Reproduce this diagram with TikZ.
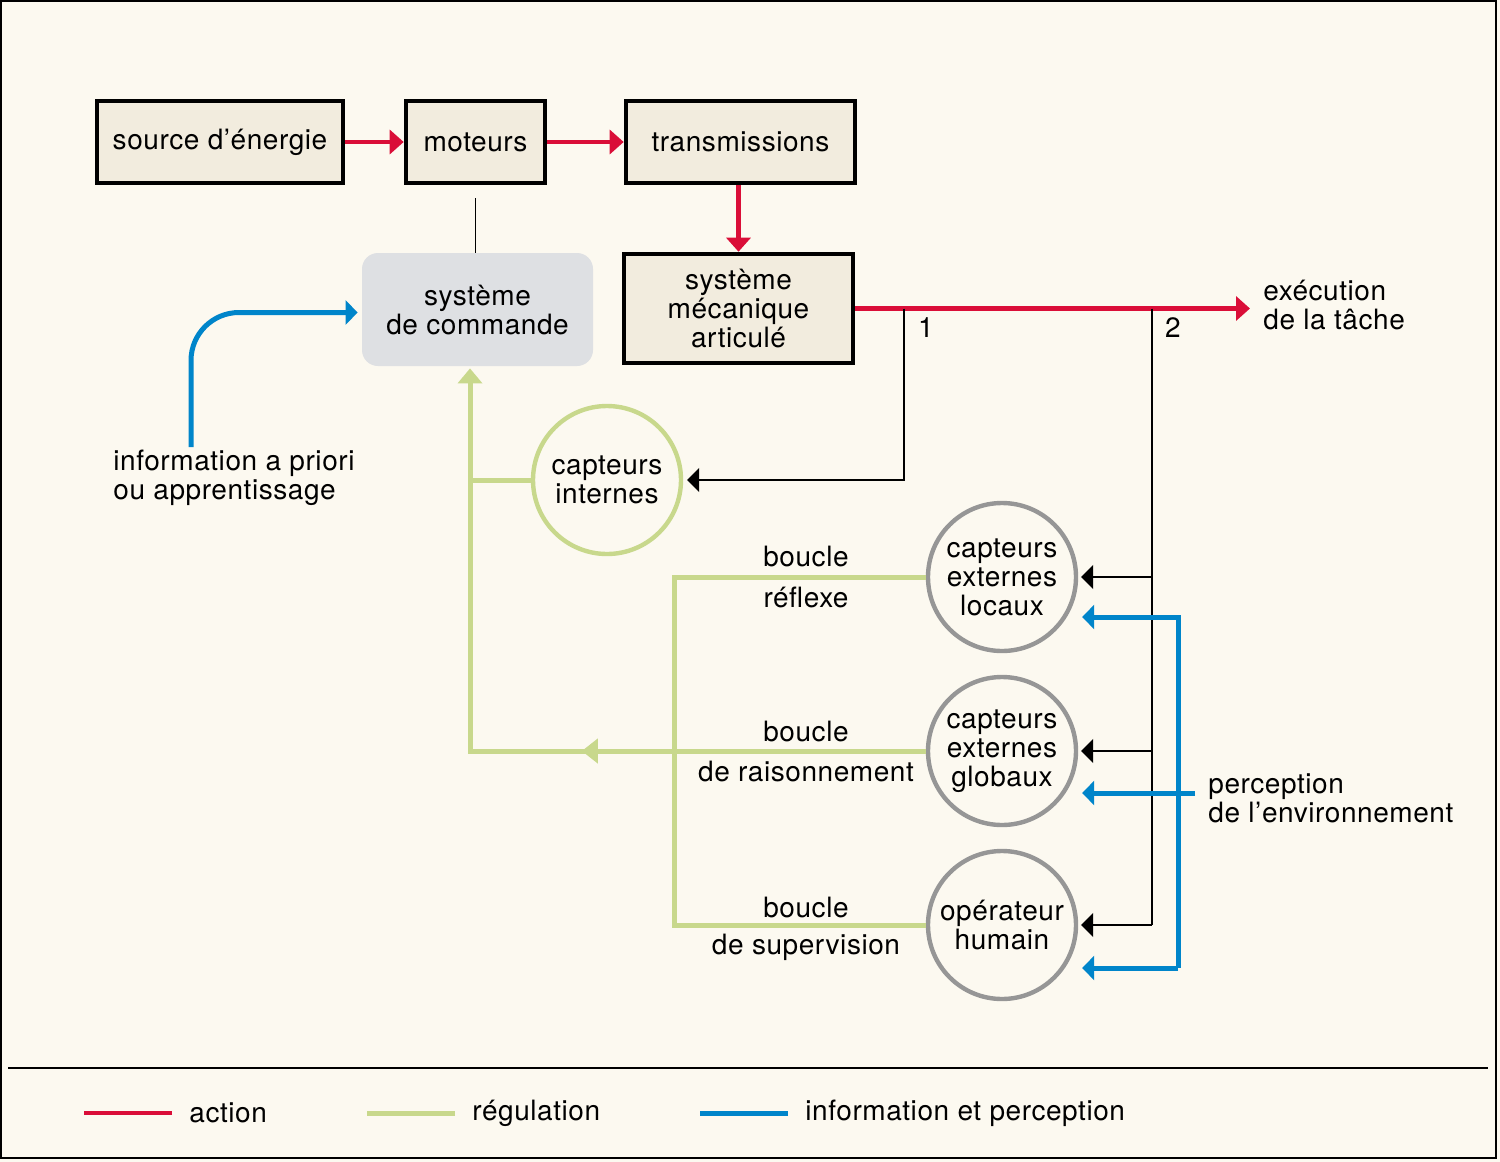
\documentclass[tikz,border=0pt]{standalone}
\usepackage{fontspec}
\setmainfont{TeX Gyre Heros}[LetterSpace=2]
\usetikzlibrary{arrows.meta,calc,decorations.markings}

\definecolor{fond}{RGB}{252,249,240}
\definecolor{boite}{RGB}{242,236,222}
\definecolor{grisbloc}{RGB}{222,224,227}
\definecolor{cercle}{RGB}{150,150,150}
\definecolor{rouge}{RGB}{218,14,56}
\definecolor{vert}{RGB}{200,216,140}
\definecolor{bleu}{RGB}{0,133,202}

\begin{document}
\begin{tikzpicture}[x=0.5pt,y=-0.5pt,
    font=\fontsize{14}{14.5}\selectfont,
    bloc/.style={draw=black,line width=2.3pt,fill=boite,minimum height=41pt,inner sep=0pt,align=center},
    capteur/.style={circle,draw=cercle,line width=2.2pt,minimum size=74pt,inner sep=0pt,align=center},
    action/.style={draw=rouge,line width=2.2pt,-{Triangle[length=7pt,width=12pt]}},
    regul/.style={draw=vert,line width=2.5pt},
    percep/.style={draw=bleu,line width=2.5pt,-{Triangle[length=6pt,width=12pt]}},
    liaison/.style={draw=black,line width=0.9pt,-{Triangle[length=6pt,width=12pt]}},
    texte/.style={inner sep=0pt,align=left}]

    % fond et cadre
    \fill[fond] (0,0) rectangle (1500,1162);
    \useasboundingbox (0,0) rectangle (1500,1162);
    \draw[line width=1pt] (1,1) rectangle (1496,1158);

    % chaine d'action
    \node[bloc,minimum width=123pt] (src) at (220,142) {source d’énergie};
    \node[bloc,minimum width=69.5pt] (mot) at (475.5,142) {moteurs};
    \node[bloc,minimum width=114.5pt] (trans) at (740.5,142) {transmissions};
    \node[bloc,minimum width=114.5pt,minimum height=54.5pt] (meca) at (738.5,308.5) {système\\mécanique\\articulé};
    \node[fill=grisbloc,rounded corners=8pt,minimum width=115.5pt,minimum height=56.5pt,inner sep=0pt,align=center] (cmd) at (477.5,309.5) {système\\de commande};

    \draw[action] (src) -- (mot);
    \draw[action] (mot) -- (trans);
    \draw[action] (trans.south -| meca.north) -- (meca.north);
    \coordinate (tache) at (1250,309);
    \draw[action] (meca.east) -- (meca.east -| tache);
    \node[texte,anchor=west] (exec) at (1263,305) {exécution\\de la tâche};

    % liaison moteurs - commande
    \draw[line width=0.9pt] ($(mot.south)+(0,13)$) -- (cmd.north -| mot.south);

    % capteurs
    \node[capteur,draw=vert] (cint) at (607,480) {capteurs\\internes};
    \node[capteur] (cloc) at (1002,577) {capteurs\\externes\\locaux};
    \node[capteur] (cglob) at (1002,751) {capteurs\\externes\\globaux};
    \node[capteur] (ophum) at (1002,925) {opérateur\\humain};

    % retours 1 et 2
    \coordinate (j1) at (904,308.5);
    \coordinate (j2) at (1152,308.5);
    \draw[liaison] (j1) |- ($(cint.east)+(4,0)$);
    \node (un) at (926,328) {1};
    \node (deux) at (1173,328) {2};
    \draw[line width=0.9pt] (j2) -- (j2 |- ophum.east);
    \draw[liaison] (j2 |- cloc.east) -- ($(cloc.east)+(3,0)$);
    \draw[liaison] (j2 |- cglob.east) -- ($(cglob.east)+(3,0)$);
    \draw[liaison] (j2 |- ophum.east) -- ($(ophum.east)+(3,0)$);

    % perception de l'environnement
    \node[texte,anchor=west] (perc) at (1208,798) {perception\\de l’environnement};
    \coordinate (b1) at (1178,617);
    \coordinate (b3) at (1178,968);
    \draw[percep] (b1 |- b3) -- (b1) -- ($(cloc.east)+(4,40)$);
    \draw[percep] (b3) -- ($(ophum.east)+(4,43)$);
    \draw[percep] ($(perc.west)+(-13,-5)$) -- ($(cglob.east)+(4,42)$);

    % information a priori
    \node[texte,anchor=west] (apriori) at (113,478) {information a priori\\ou apprentissage};
    \coordinate (ap) at (191,447);
    \draw[percep,rounded corners=24pt] (ap) |- ($(cmd.west)+(-4,3)$);

    % boucles de regulation
    \draw[regul] (cloc.west) -- ++(-251,0) |- (ophum.west);
    \coordinate (g2) at (470,751);
    \draw[regul,-{Triangle[length=7.5pt,width=12pt]},
      postaction={decorate,decoration={markings,
        mark=at position 172pt with {\arrow{Triangle[length=8pt,width=12pt]}}}}]
      (cglob.west) -- (g2) -- ($(cmd.south -| g2)+(0,2)$);
    \draw[regul] (cint.west) -- (cint.west -| g2);
    \node (b1h) at (806,556) {boucle};
    \node (b1b) at (806,597) {réflexe};
    \node (b2h) at (806,731) {boucle};
    \node (b2b) at (806,771) {de raisonnement};
    \node (b3h) at (806,907) {boucle};
    \node (b3b) at (806,947) {de supervision};

    % legende
    \draw[line width=1pt] (8,1068) -- (1488,1068);
    \node[texte,anchor=west] (lact) at (189,1113) {action};
    \node[texte,anchor=west] (lreg) at (472,1113) {régulation};
    \node[texte,anchor=west] (linf) at (805,1113) {information et perception};
    \draw[rouge,line width=2.2pt] ($(lact.west)+(-17,0)$) -- ++(-88,0);
    \draw[vert,line width=2.5pt] ($(lreg.west)+(-17,0)$) -- ++(-88,0);
    \draw[bleu,line width=2.5pt] ($(linf.west)+(-17,0)$) -- ++(-88,0);

\end{tikzpicture}
\end{document}
